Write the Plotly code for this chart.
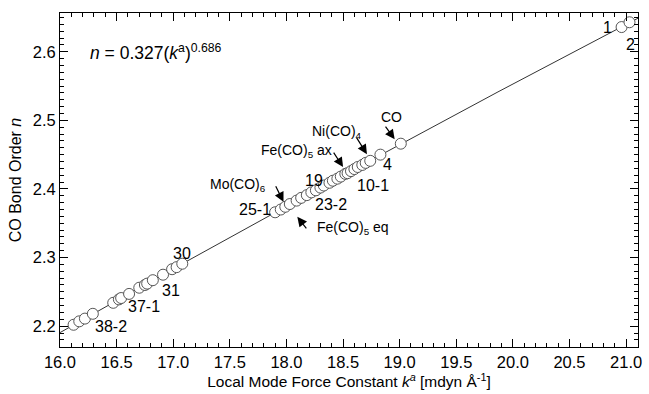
import numpy as np
import plotly.graph_objects as go

# Data
k_values = [16.12, 16.17, 16.22, 16.29, 16.47, 16.52, 16.54, 16.61, 16.70, 16.75,
            16.77, 16.82, 16.91, 16.99, 17.03, 17.08,
            17.90, 17.95, 17.99, 18.03, 18.09, 18.13, 18.18, 18.22, 18.26, 18.30,
            18.33, 18.38, 18.41, 18.45, 18.48, 18.52, 18.54, 18.57, 18.60, 18.63,
            18.67, 18.70, 18.74, 18.83, 19.01, 20.96, 21.03]
n_values = [2.202, 2.207, 2.211, 2.218, 2.234, 2.239, 2.241, 2.247, 2.256, 2.260,
            2.262, 2.267, 2.275, 2.283, 2.286, 2.291,
            2.366, 2.370, 2.374, 2.378, 2.383, 2.387, 2.391, 2.395, 2.398, 2.402,
            2.405, 2.409, 2.412, 2.415, 2.418, 2.422, 2.423, 2.426, 2.429, 2.432,
            2.435, 2.438, 2.441, 2.450, 2.466, 2.636, 2.643]
fit_a = 0.327
fit_b = 0.686
x_ticks = [16.0, 16.5, 17.0, 17.5, 18.0, 18.5, 19.0, 19.5, 20.0, 20.5, 21.0]
y_ticks = [2.2, 2.3, 2.4, 2.5, 2.6]

FONT = "Liberation Sans"

kfit = np.linspace(15.9, 21.2, 200)
nfit = fit_a * kfit ** fit_b

fig = go.Figure()
fig.add_trace(go.Scatter(x=kfit, y=nfit, mode="lines",
                         line=dict(color="#333333", width=1), hoverinfo="skip",
                         showlegend=False))
fig.add_trace(go.Scatter(x=k_values, y=n_values, mode="markers",
                         marker=dict(size=11, color="white",
                                     line=dict(color="#444444", width=0.9)),
                         showlegend=False))

NUM = 16
CMP = 14
labels = [
    ("1", 20.833, 2.6348, NUM), ("2", 21.035, 2.6101, NUM),
    ("CO", 18.930, 2.5043, CMP), ("Ni(CO)<sub>4</sub>", 18.447, 2.4826, CMP),
    ("Fe(CO)<sub>5</sub> ax", 18.088, 2.4551, CMP), ("19", 18.246, 2.4130, NUM),
    ("4", 18.895, 2.4350, NUM), ("10-1", 18.763, 2.4050, NUM),
    ("Mo(CO)<sub>6</sub>", 17.570, 2.4058, CMP), ("25-1", 17.719, 2.3696, NUM),
    ("23-2", 18.395, 2.3768, NUM), ("Fe(CO)<sub>5</sub> eq", 18.588, 2.3435, CMP),
    ("30", 17.079, 2.3058, NUM), ("31", 16.982, 2.2522, NUM),
    ("37-1", 16.746, 2.2290, NUM), ("38-2", 16.447, 2.2000, NUM),
]
annotations = []
for t, x, y, s in labels:
    annotations.append(dict(text=t, x=x, y=y, xref="x", yref="y", showarrow=False,
                            font=dict(family=FONT, size=s, color="black")))

arrows = [
    (17.974, 2.3812, -9, -18), (18.096, 2.3594, 11, 14), (18.500, 2.4319, -11, -17),
    (18.711, 2.4507, -12, -19), (18.956, 2.4725, -11, -15),
]
for x, y, ax, ay in arrows:
    annotations.append(dict(text=" ", x=x, y=y, xref="x", yref="y", ax=ax, ay=ay,
                            showarrow=True, arrowhead=2, arrowsize=1.6, arrowwidth=1.2,
                            arrowcolor="black", standoff=0,
                            font=dict(family=FONT, size=2)))

annotations.append(dict(text="<i>n</i> = 0.327(<i>k</i><sup>a</sup>)<sup>0.686</sup>",
                        x=16.246, y=2.600, xref="x", yref="y", xanchor="left",
                        showarrow=False, font=dict(family=FONT, size=17.5, color="black")))

axis_common = dict(showline=True, linecolor="black", linewidth=1, mirror="allticks",
                   ticks="inside", ticklen=8, tickwidth=1, tickcolor="black",
                   showgrid=False, zeroline=False,
                   tickfont=dict(family=FONT, size=16.5, color="black"))

fig.update_xaxes(range=[16.0, 21.105], tickvals=x_ticks, tickformat=".1f",
                 minor=dict(ticks="inside", ticklen=4, dtick=0.1, tick0=16.0,
                            tickcolor="black", showgrid=False),
                 title=dict(text="Local Mode Force Constant <i>k</i><sup><i>a</i></sup> [mdyn Å<sup>-1</sup>]",
                            font=dict(family=FONT, size=15.5, color="black"), standoff=5),
                 **axis_common)
fig.update_yaxes(range=[2.1696, 2.6565], tickvals=y_ticks, tickformat=".1f",
                 minor=dict(ticks="inside", ticklen=4, dtick=0.01, tick0=2.2,
                            tickcolor="black", showgrid=False),
                 title=dict(text="CO Bond Order <i>n</i>",
                            font=dict(family=FONT, size=16, color="black"), standoff=7),
                 **axis_common)

fig.update_layout(width=649, height=394, margin=dict(l=60, r=7, t=13, b=44),
                  plot_bgcolor="white", paper_bgcolor="white",
                  annotations=annotations, showlegend=False)

fig.write_html("out.html")
